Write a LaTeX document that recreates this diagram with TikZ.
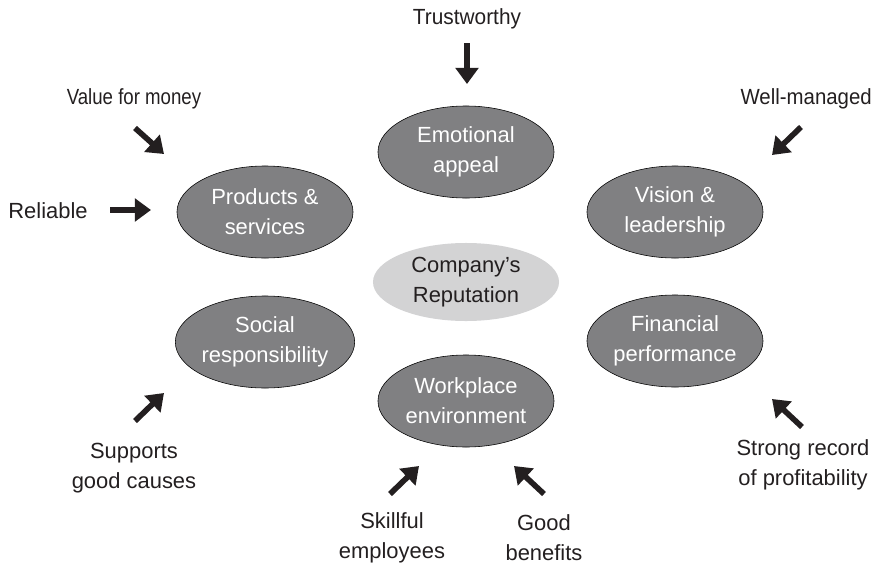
\documentclass[tikz,border=0pt]{standalone}
\usepackage{fontspec}
\setmainfont{Liberation Sans}
\usetikzlibrary{shapes.geometric, arrows.meta}

\definecolor{ovalgray}{RGB}{128,128,130}
\definecolor{hubgray}{RGB}{211,211,212}
\definecolor{inkdark}{RGB}{35,31,32}

\begin{document}
\begin{tikzpicture}[
    x=0.025cm,
    y=-0.025cm,
    font=\fontsize{15.6}{21.3}\selectfont,
    factor/.style={
        ellipse,
        draw=black,
        thin,
        fill=ovalgray,
        text=white,
        align=center,
        inner sep=0pt,
        minimum width=4.4cm,
        minimum height=2.3cm
    },
    hub/.style={
        ellipse,
        fill=hubgray,
        text=inkdark,
        align=center,
        inner sep=0pt,
        minimum width=4.65cm,
        minimum height=1.95cm
    },
    trait/.style={
        text=inkdark,
        align=center,
        inner sep=0pt
    },
    push/.style={
        draw=inkdark,
        line width=4pt,
        -{Triangle[width=16pt,length=11.5pt]}
    }
]
    \useasboundingbox (0,0) rectangle (876,566);

    % centre and the six drivers
    \node[hub] (rep) at (466, 282) {Company's\\Reputation};
    \node[factor] (emo) at (466, 152) {Emotional\\appeal};
    \node[factor] (prod) at (265, 212) {Products \&\\services};
    \node[factor] (vis) at (675, 212) {Vision \&\\leadership};
    \node[factor] (soc) at (265, 342) {Social\\responsibility};
    \node[factor] (fin) at (675, 341) {Financial\\performance};
    \node[factor] (work) at (466, 401) {Workplace\\environment};

    % attributes
    \node[trait, xscale=0.95] (trust) at (467, 19) {Trustworthy};
    \node[trait, xscale=0.85] (value) at (134, 99) {Value for money};
    \node[trait] (rel) at (48, 211) {Reliable};
    \node[trait, anchor=east, xscale=0.93] (well) at (872, 99) {Well-managed};
    \node[trait] (supp) at (134, 468) {Supports\\good causes};
    \node[trait] (skill) at (392, 538) {Skillful\\employees};
    \node[trait] (good) at (544, 538) {Good\\benefits};
    \node[trait] (strong) at (803, 465) {Strong record\\of profitability};

    % arrow ends
    \coordinate (trustA) at (467, 43);
    \coordinate (trustB) at (467, 84);
    \coordinate (valueA) at (135, 128);
    \coordinate (valueB) at (164, 154);
    \coordinate (relA) at (110, 210);
    \coordinate (relB) at (151, 210);
    \coordinate (wellA) at (801, 127);
    \coordinate (wellB) at (772, 155);
    \coordinate (suppA) at (135, 421);
    \coordinate (suppB) at (164, 393);
    \coordinate (skillA) at (390, 494);
    \coordinate (skillB) at (419, 466);
    \coordinate (goodA) at (544, 494);
    \coordinate (goodB) at (514, 466);
    \coordinate (strongA) at (802, 427);
    \coordinate (strongB) at (772, 399);

    \draw[push] (trustA) -- (trustB);
    \draw[push] (valueA) -- (valueB);
    \draw[push] (relA) -- (relB);
    \draw[push] (wellA) -- (wellB);
    \draw[push] (suppA) -- (suppB);
    \draw[push] (skillA) -- (skillB);
    \draw[push] (goodA) -- (goodB);
    \draw[push] (strongA) -- (strongB);
\end{tikzpicture}
\end{document}
